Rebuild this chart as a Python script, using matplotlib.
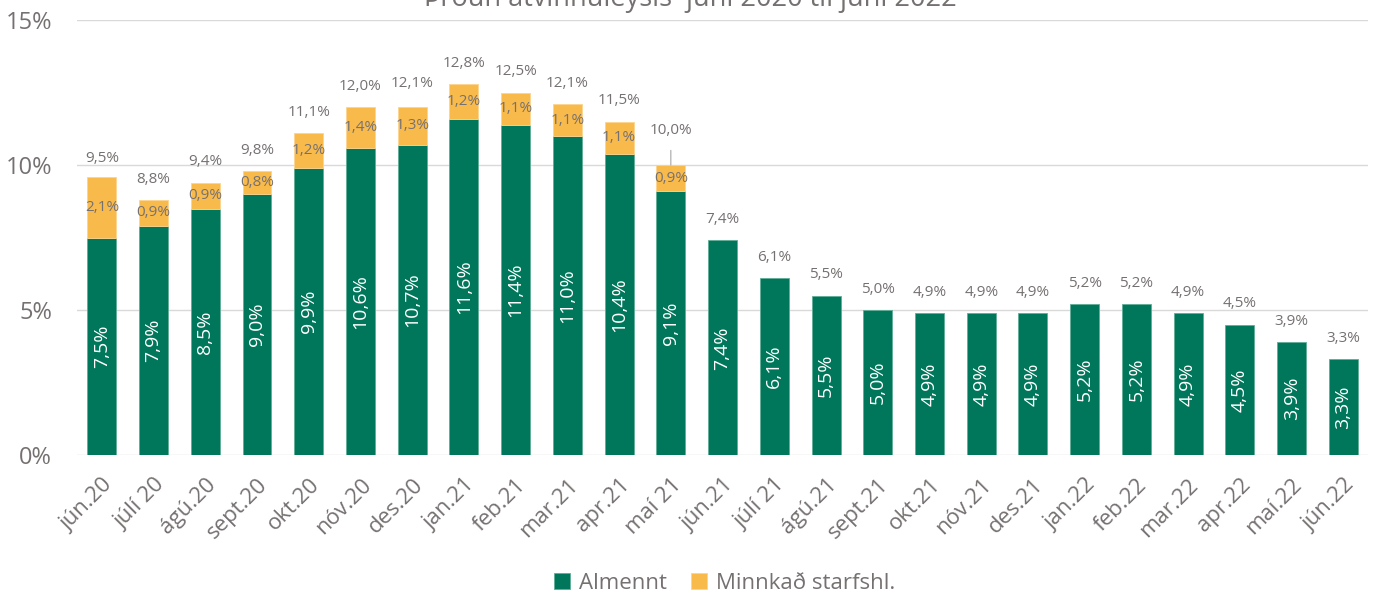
import numpy as np
import matplotlib.pyplot as plt
from matplotlib.transforms import ScaledTranslation

plt.rcParams['font.family'] = ['Open Sans', 'DejaVu Sans']

months = ["jún.20", "júlí 20", "ágú.20", "sept.20", "okt.20", "nóv.20", "des.20",
          "jan.21", "feb.21", "mar.21", "apr.21", "maí 21", "jún.21", "júlí 21",
          "ágú.21", "sept.21", "okt.21", "nóv.21", "des.21", "jan.22", "feb.22",
          "mar.22", "apr.22", "maí.22", "jún.22"]
almennt = [7.5, 7.9, 8.5, 9.0, 9.9, 10.6, 10.7, 11.6, 11.4, 11.0, 10.4, 9.1, 7.4,
           6.1, 5.5, 5.0, 4.9, 4.9, 4.9, 5.2, 5.2, 4.9, 4.5, 3.9, 3.3]
minnkad = [2.1, 0.9, 0.9, 0.8, 1.2, 1.4, 1.3, 1.2, 1.1, 1.1, 1.1, 0.9, 0, 0, 0, 0,
           0, 0, 0, 0, 0, 0, 0, 0, 0]
samtals = [9.5, 8.8, 9.4, 9.8, 11.1, 12.0, 12.1, 12.8, 12.5, 12.1, 11.5, 10.0, 7.4,
           6.1, 5.5, 5.0, 4.9, 4.9, 4.9, 5.2, 5.2, 4.9, 4.5, 3.9, 3.3]

green = '#00775A'
orange = '#F9BA4C'
grey = '#767171'

def pct(v):
    return f"{v:.1f}%".replace('.', ',')

fig = plt.figure(figsize=(13.75, 5.94), dpi=100)
ax = fig.add_axes([0.056, 0.234, 0.939, 0.732])

x = np.arange(len(months))
a = np.array(almennt)
m = np.array(minnkad)
has_m = m > 0
ax.bar(x, a, width=0.56, color=green, edgecolor='#5fae96', linewidth=0.6, label='Almennt', zorder=2)
ax.bar(x[has_m], m[has_m], width=0.56, bottom=a[has_m], color=orange, edgecolor='#fbd48e',
       linewidth=0.6, label='Minnkað starfshl.', zorder=2)

for i in range(len(months)):
    ax.text(x[i], a[i] / 2, pct(a[i]), rotation=90, ha='center', va='center',
            color='white', fontsize=14, zorder=3)
    if m[i] > 0:
        ax.text(x[i], a[i] + m[i] / 2, pct(m[i]), ha='center', va='center',
                color=grey, fontsize=11, zorder=3)
    if i == 11:
        ax.annotate(pct(samtals[i]), xy=(x[i], samtals[i]), xytext=(0, 25),
                    textcoords='offset points', ha='center', va='center',
                    color=grey, fontsize=11,
                    arrowprops=dict(arrowstyle='-', color='#a6a6a6', lw=0.8,
                                    shrinkA=7, shrinkB=0))
    else:
        ax.annotate(pct(samtals[i]), xy=(x[i], samtals[i]), xytext=(0, 15),
                    textcoords='offset points', ha='center', va='center',
                    color=grey, fontsize=11)

ax.set_ylim(0, 15)
ax.set_xlim(-0.48, 24.48)
ax.set_yticks([0, 5, 10, 15])
ax.set_yticklabels(['0%', '5%', '10%', '15%'], fontsize=17, color=grey)
ax.yaxis.grid(True, color='#d9d9d9', linewidth=1, zorder=0)
ax.set_axisbelow(True)
ax.set_xticks(x)
ax.set_xticklabels(months, rotation=45, ha='right', rotation_mode='anchor',
                   fontsize=16, color=grey)
shift = ScaledTranslation(6 / 100, 0, fig.dpi_scale_trans)
for lbl in ax.get_xticklabels():
    lbl.set_transform(lbl.get_transform() + shift)
ax.tick_params(axis='both', length=0)
ax.tick_params(axis='x', pad=14)
ax.tick_params(axis='y', pad=18)
for s in ax.spines.values():
    s.set_visible(False)

fig.text(0.502, 0.99, "Þróun atvinnuleysis  júní 2020 til júní 2022", ha='center',
         va='baseline', fontsize=19.5, color=grey)

fig.legend(loc='center', bbox_to_anchor=(0.527, 0.018), ncol=2, frameon=False,
           fontsize=16, handlelength=0.7, handleheight=0.7, columnspacing=1.1,
           handletextpad=0.4, labelcolor=grey)

fig.savefig('out.png', dpi=100)
